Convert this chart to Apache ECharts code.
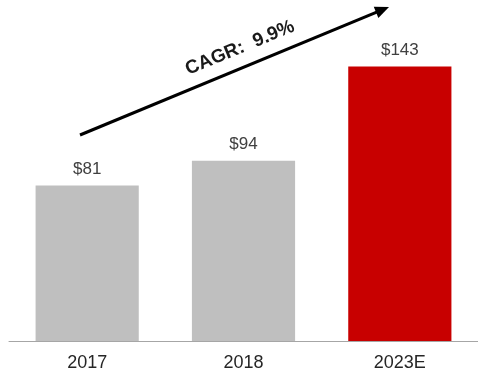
<!DOCTYPE html>
<html>
<head>
<meta charset="utf-8">
<script src="https://cdn.jsdelivr.net/npm/echarts@6/dist/echarts.min.js"></script>
<style>
  html, body { margin: 0; padding: 0; background: #fff; }
  #chart { width: 478px; height: 376px; }
</style>
</head>
<body>
<div id="chart"></div>
<script>
// Market size by year (US$), with the 2023 estimate highlighted
const categories = ['2017', '2018', '2023E'];
const values = [81, 94, 143];
const barColors = ['#BFBFBF', '#BFBFBF', '#C80000'];
const valueLabels = ['$81', '$94', '$143'];
const cagrText = 'CAGR:  9.9%';

const chart = echarts.init(document.getElementById('chart'), null, { renderer: 'canvas' });

// Growth arrow drawn above the bars
const arrowStart = [80, 135];
const arrowEnd = [389, 7];
const ang = Math.atan2(arrowStart[1] - arrowEnd[1], arrowEnd[0] - arrowStart[0]);
const headLen = 14, headHalf = 6;
const ux = Math.cos(ang), uy = -Math.sin(ang);
const baseX = arrowEnd[0] - ux * headLen, baseY = arrowEnd[1] - uy * headLen;
const px = -uy, py = ux;

chart.setOption({
  animation: false,
  grid: { left: 9, right: -5, top: 34, bottom: 35 },
  xAxis: {
    type: 'category',
    data: categories,
    axisLine: { lineStyle: { color: '#A6A6A6', width: 1 } },
    axisTick: { show: false },
    axisLabel: {
      color: '#262626',
      fontFamily: 'Liberation Sans, Arial, sans-serif',
      fontSize: 18,
      margin: 13
    }
  },
  yAxis: {
    type: 'value',
    min: 0,
    max: 160,
    show: false,
    splitLine: { show: false }
  },
  series: [{
    type: 'bar',
    barWidth: '66%',
    data: values.map((v, i) => ({ value: v, itemStyle: { color: barColors[i] } })),
    label: {
      show: true,
      position: 'top',
      distance: 8,
      color: '#404040',
      fontFamily: 'Liberation Sans, Arial, sans-serif',
      fontSize: 17,
      formatter: p => valueLabels[p.dataIndex]
    }
  }],
  graphic: [
    {
      type: 'line',
      shape: { x1: arrowStart[0], y1: arrowStart[1], x2: baseX + ux * 2, y2: baseY + uy * 2 },
      style: { stroke: '#000', lineWidth: 3 }
    },
    {
      type: 'polygon',
      shape: {
        points: [
          [arrowEnd[0], arrowEnd[1]],
          [baseX + px * headHalf, baseY + py * headHalf],
          [baseX - px * headHalf, baseY - py * headHalf]
        ]
      },
      style: { fill: '#000' }
    },
    {
      type: 'text',
      x: 240,
      y: 48,
      rotation: ang,
      style: {
        text: cagrText,
        fill: '#1a1a1a',
        font: 'bold 19px "Liberation Sans", Arial, sans-serif',
        align: 'center',
        verticalAlign: 'middle'
      }
    }
  ]
});
</script>
</body>
</html>
